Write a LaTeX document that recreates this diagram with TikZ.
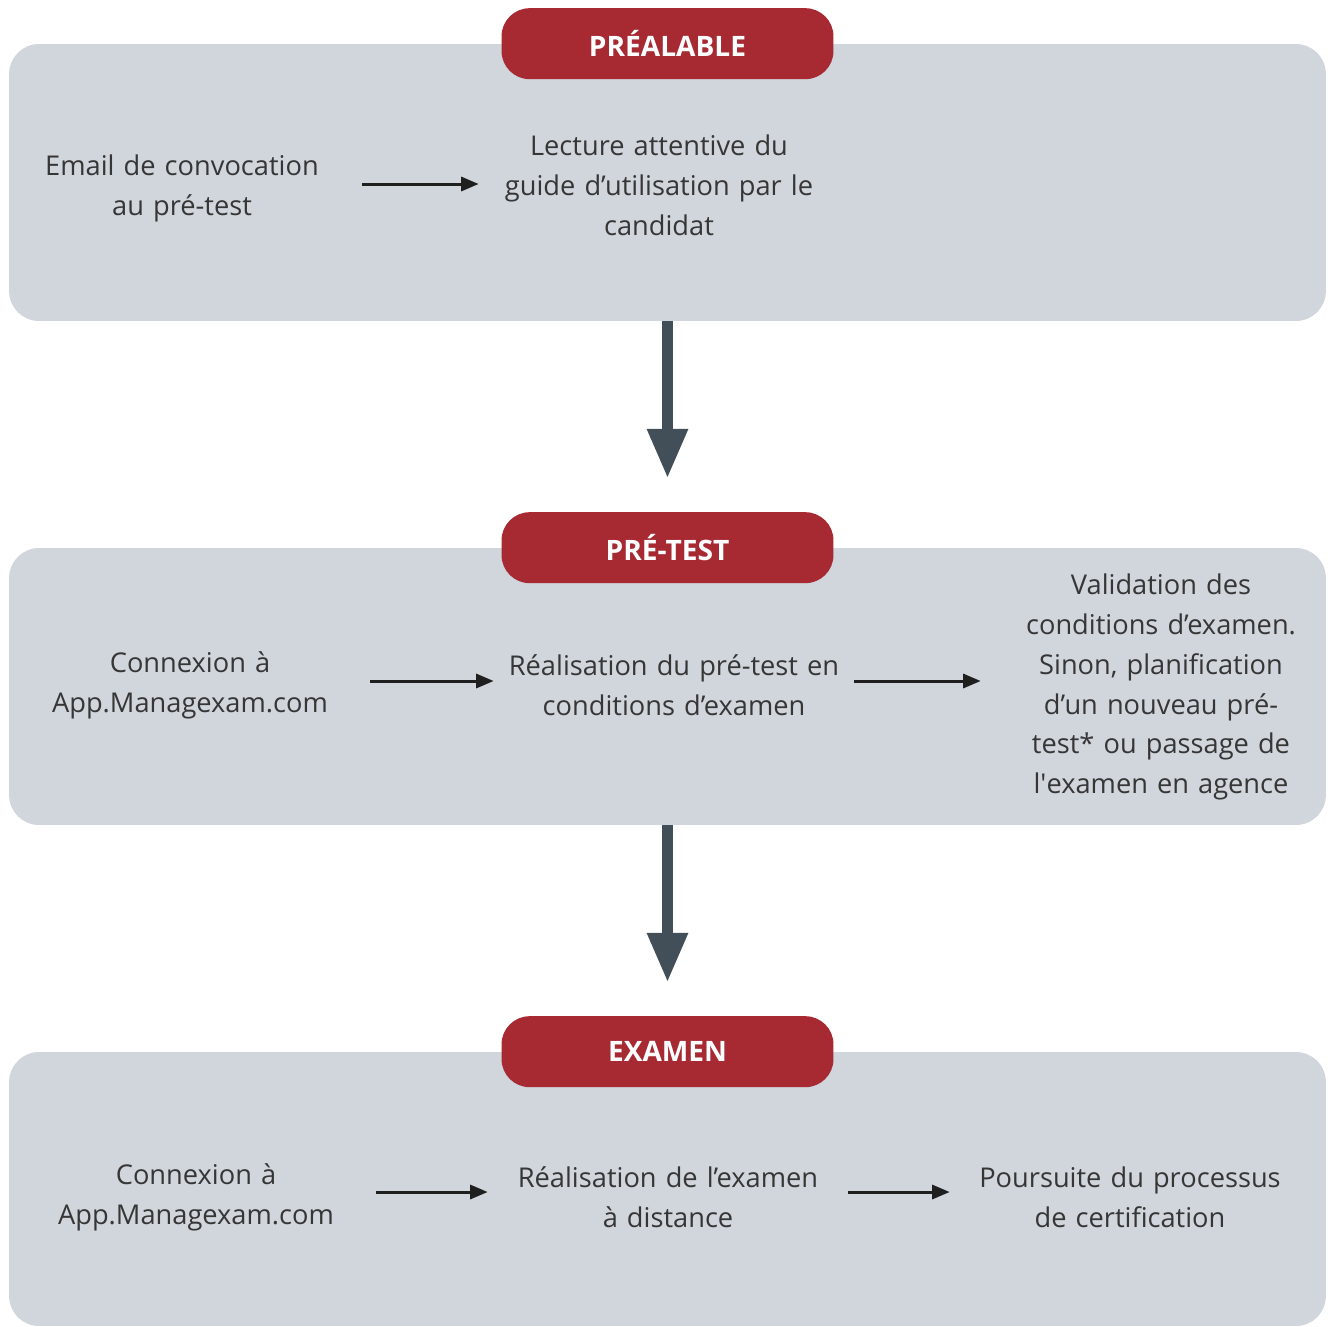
\documentclass[tikz,border=0pt]{standalone}
\usepackage{fontspec}
\setmainfont{Open Sans}
\usetikzlibrary{arrows.meta,positioning}
\definecolor{tagred}{HTML}{A72A33}
\definecolor{panelgray}{HTML}{D1D5DC}
\definecolor{bigarrowgray}{HTML}{434F58}
\definecolor{textgray}{HTML}{363636}
\begin{document}
\begin{tikzpicture}
      [x=0.02cm, y=-0.02cm,
      panel style/.style={fill=panelgray, rounded corners=17pt, minimum width=26.34cm, minimum height=5.54cm, inner sep=0},
      tag style/.style={fill=tagred, rounded corners=16pt, minimum width=6.64cm, minimum height=1.42cm, inner sep=0, text=white, font=\fontsize{16pt}{19pt}\selectfont\bfseries},
      step style/.style={align=center, text width=7.2cm, inner sep=0, text=textgray, font=\fontsize{15.5pt}{22.7pt}\selectfont},
      small arrow/.style={-{Triangle[length=10pt, width=8pt]}, line width=1.7pt, draw=black!88},
      big arrow/.style={-{Triangle[length=28.4pt, width=21.5pt]}, line width=6.8pt, draw=bigarrowgray, shorten >=0.66cm},
      ]
      \useasboundingbox (0,0) rectangle (1328,1326);

      \node[panel style] (panel1) at (667.5,182.5) {};
      \node[panel style] (panel2) at (667.5,686.5) {};
      \node[panel style, minimum height=5.48cm] (panel3) at (667.5,1189) {};

      \node[tag style] (tag1) at (panel1.north) {PRÉALABLE};
      \node[tag style] (tag2) at (panel2.north) {PRÉ-TEST};
      \node[tag style] (tag3) at (panel3.north) {EXAMEN};

      \draw[big arrow] (panel1.south) -- (tag2.north);
      \draw[big arrow] (panel2.south) -- (tag3.north);

      \node[step style] (email) at (182,188) {Email de convocation\\au pré-test};
      \node[step style] (lecture) at (659,185) {Lecture attentive du\\guide d’utilisation par le\\candidat};
      \draw[small arrow] (email.east) ++(0,-4) -- ([yshift=4*0.02cm]email.east -| lecture.west);

      \node[step style] (connexion1) at (190,685) {Connexion à\\App.Managexam.com};
      \node[step style] (pretest) at (674,685) {Réalisation du pré-test en\\conditions d’examen};
      \node[step style] (validation) at (1161,687) {Validation des\\conditions d’examen.\\Sinon, planification\\d’un nouveau pré-\\test* ou passage de\\l\textquotesingle examen en agence};
      \draw[small arrow] (connexion1.east) ++(0,-4) -- ([yshift=4*0.02cm]connexion1.east -| pretest.west);
      \draw[small arrow] (pretest.east) ++(0,-4) -- ([yshift=4*0.02cm]pretest.east -| validation.west);

      \node[step style] (connexion2) at (196,1197) {Connexion à\\App.Managexam.com};
      \node[step style] (distance) at (668,1197) {Réalisation de l’examen\\à distance};
      \node[step style] (poursuite) at (1130,1197) {Poursuite du processus\\de certification};
      \draw[small arrow] (connexion2.east) ++(0,-5) -- ([yshift=5*0.02cm]connexion2.east -| distance.west);
      \draw[small arrow] (distance.east) ++(0,-5) -- ([yshift=5*0.02cm]distance.east -| poursuite.west);
\end{tikzpicture}
\end{document}
